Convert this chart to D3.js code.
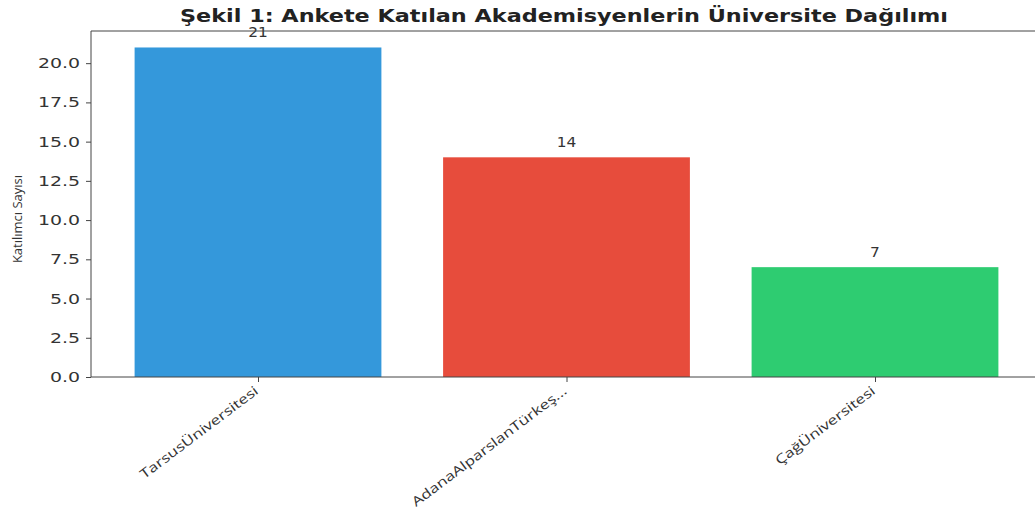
<!DOCTYPE html>
<html>
<head>
<meta charset="utf-8">
<script src="https://cdn.jsdelivr.net/npm/d3@7.9.0/dist/d3.min.js"></script>
<style>
  body { margin: 0; background: #fff; }
  svg { display: block; }
</style>
</head>
<body>
<div id="chart"></div>
<script>
const universities = ['TarsusÜniversitesi', 'AdanaAlparslanTürkeş...', 'ÇağÜniversitesi'];
const counts = [21, 14, 7];
const barColors = ['#3498db', '#e74c3c', '#2ecc71'];
const yTicks = [0, 2.5, 5, 7.5, 10, 12.5, 15, 17.5, 20];

const width = 1035;
const height = 518;
const area = { left: 91, top: 31, bottom: 377 };

// the picture is stretched sideways, so widen text a little
function widen(sel, k) {
  sel.each(function () {
    const len = this.getComputedTextLength();
    d3.select(this)
      .attr('textLength', len * k)
      .attr('lengthAdjust', 'spacingAndGlyphs');
  });
}

const svg = d3.select('#chart')
  .append('svg')
  .attr('width', width)
  .attr('height', height);

const xScale = d3.scaleLinear().domain([0, 2]).range([258, 875]);
const barW = (xScale(1) - xScale(0)) * 0.8;
const yScale = d3.scaleLinear().domain([0, 22.05]).range([area.bottom, area.top]);

// bars
svg.append('g')
  .selectAll('rect')
  .data(counts)
  .join('rect')
  .attr('x', (d, i) => xScale(i) - barW / 2)
  .attr('y', (d) => yScale(d))
  .attr('width', barW)
  .attr('height', (d) => yScale(0) - yScale(d))
  .attr('fill', (d, i) => barColors[i]);

// value labels
svg.append('g')
  .selectAll('text')
  .data(counts)
  .join('text')
  .attr('x', (d, i) => xScale(i))
  .attr('y', (d) => yScale(d) - 10)
  .attr('text-anchor', 'middle')
  .attr('font-family', 'DejaVu Sans')
  .attr('font-size', 14)
  .attr('fill', '#333')
  .text((d) => d)
  .call(widen, 1.1);

// y axis
const yAxis = d3.axisLeft(yScale)
  .tickValues(yTicks)
  .tickFormat(d3.format('.1f'))
  .tickSize(5)
  .tickPadding(6);

const gy = svg.append('g')
  .attr('transform', `translate(${area.left},0)`)
  .call(yAxis);
gy.select('.domain').attr('d', `M0,${area.bottom}V${area.top}`).attr('stroke', '#444');
gy.selectAll('.tick line').attr('stroke', '#444');
gy.selectAll('.tick text')
  .attr('font-family', 'DejaVu Sans')
  .attr('font-size', 14)
  .attr('fill', '#333')
  .call(widen, 1.35);

// x axis spine + ticks
const gx = svg.append('g')
  .attr('transform', `translate(0,${area.bottom})`)
  .call(d3.axisBottom(xScale).tickValues([0, 1, 2]).tickFormat('').tickSize(5));
gx.select('.domain').attr('d', `M${area.left},0H${width}`).attr('stroke', '#444');
gx.selectAll('.tick line').attr('stroke', '#444');

gx.selectAll('.tick')
  .append('text')
  .attr('transform', 'translate(-2,12) rotate(-37)')
  .attr('text-anchor', 'end')
  .attr('dy', '0.35em')
  .attr('font-family', 'Open Sans')
  .attr('font-size', 13)
  .attr('fill', '#333')
  .text((d) => universities[d])
  .call(widen, 1.3);

// top spine
svg.append('line')
  .attr('x1', area.left).attr('x2', width)
  .attr('y1', area.top).attr('y2', area.top)
  .attr('stroke', '#444');

// y label
svg.append('text')
  .attr('transform', `translate(22,${(area.top + area.bottom) / 2 + 15}) rotate(-90)`)
  .attr('text-anchor', 'middle')
  .attr('font-family', 'Open Sans')
  .attr('font-size', 13)
  .attr('fill', '#333')
  .text('Katılımcı Sayısı');

// title
svg.append('text')
  .attr('x', 564)
  .attr('y', 22)
  .attr('text-anchor', 'middle')
  .attr('font-family', 'DejaVu Sans')
  .attr('font-weight', 'bold')
  .attr('font-size', 17)
  .attr('fill', '#222')
  .text('Şekil 1: Ankete Katılan Akademisyenlerin Üniversite Dağılımı')
  .attr('textLength', 768)
  .attr('lengthAdjust', 'spacingAndGlyphs');
</script>
</body>
</html>
